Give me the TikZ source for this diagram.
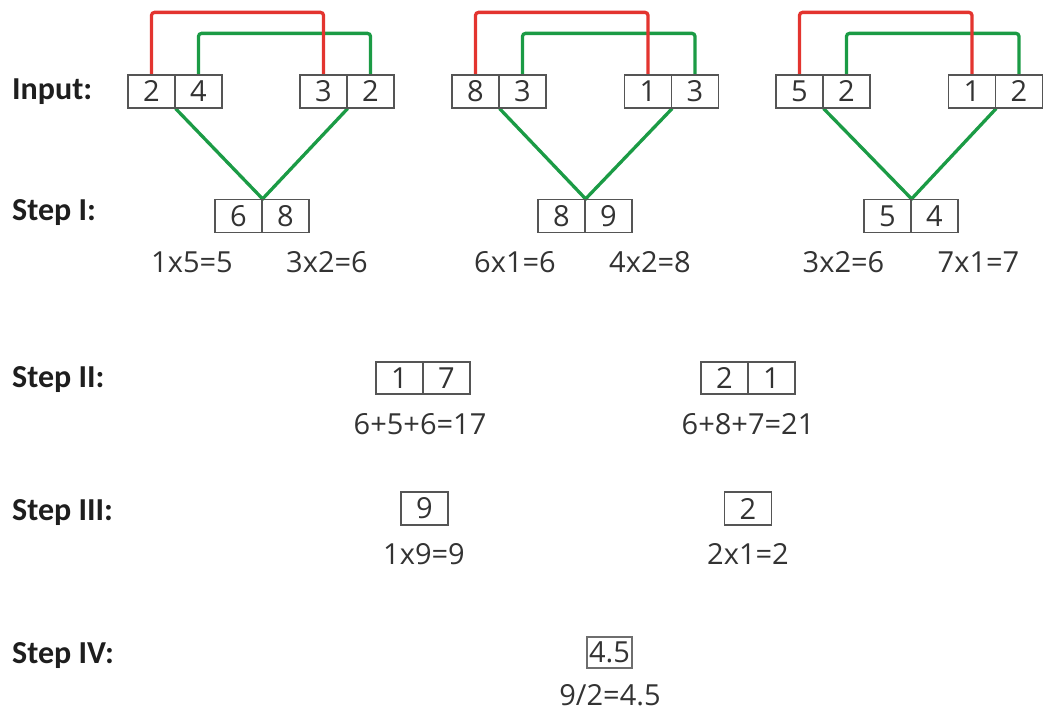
\documentclass[tikz,border=0pt]{standalone}
\usepackage{fontspec}
\setmainfont{Open Sans}
\newfontfamily\lblfont{Carlito}
\newcommand\myNum{\fontsize{29}{34}\selectfont}
\newcommand\myLbl{\lblfont\bfseries\fontsize{32}{36}\selectfont}
\definecolor{txt}{HTML}{333333}
\definecolor{lbl}{HTML}{1E1E1E}
\definecolor{boxgray}{HTML}{555555}
\definecolor{redln}{HTML}{E3342F}
\definecolor{greenln}{HTML}{1B9B45}
\pgfdeclarelayer{background}
\pgfsetlayers{background,main}
\begin{document}
\begin{tikzpicture}[x=1pt,y=-1pt,
  cell/.style={draw=boxgray, line width=1.2pt, minimum width=47pt, minimum height=33pt,
    inner sep=0pt, font=\myNum, text=txt},
  smallcell/.style={cell, minimum height=32pt},
  calc/.style={font=\myNum, text=txt, inner sep=0pt},
  steplbl/.style={font=\myLbl, text=lbl, anchor=base west, inner sep=0pt},
  redline/.style={draw=redln, line width=3.3pt, rounded corners=3pt},
  greenline/.style={draw=greenln, line width=3.3pt, rounded corners=3pt},
  vline/.style={draw=greenln, line width=3.3pt}]
\useasboundingbox (0,0) rectangle (1045,714);

% labels
\node[steplbl] (lin) at (12,100) {Input:};
\node[steplbl] (l1) at (12,221) {Step I:};
\node[steplbl] (l2) at (12,387) {Step II:};
\node[steplbl] (l3) at (12,520) {Step III:};
\node[steplbl] (l4) at (12,663) {Step IV:};

% group 1
\node[cell] (g1a) at (151.5,91.5) {2};
\node[cell] (g1b) at (198.5,91.5) {4};
\node[cell] (g1c) at (323.5,91.5) {3};
\node[cell] (g1d) at (370.5,91.5) {2};
\node[cell] (s1a) at (238.5,216) {6};
\node[cell] (s1b) at (285.5,216) {8};
\node[calc] (f1a) at (192,262) {1x5=5};
\node[calc] (f1b) at (327,262) {3x2=6};

% group 2
\node[cell] (g2a) at (475.5,91.5) {8};
\node[cell] (g2b) at (522.5,91.5) {3};
\node[cell] (g2c) at (648,91.5) {1};
\node[cell] (g2d) at (695,91.5) {3};
\node[cell] (s2a) at (561.5,216) {8};
\node[cell] (s2b) at (608.5,216) {9};
\node[calc] (f2a) at (515,262) {6x1=6};
\node[calc] (f2b) at (650,262) {4x2=8};

% group 3
\node[cell] (g3a) at (799.5,91.5) {5};
\node[cell] (g3b) at (846.5,91.5) {2};
\node[cell] (g3c) at (972,91.5) {1};
\node[cell] (g3d) at (1019,91.5) {2};
\node[cell] (s3a) at (887.5,216) {5};
\node[cell] (s3b) at (934.5,216) {4};
\node[calc] (f3a) at (843.5,262) {3x2=6};
\node[calc] (f3b) at (978.5,262) {7x1=7};

% connectors
\begin{pgfonlayer}{background}
\foreach \g in {1,2,3}{
  \draw[greenline] (g\g b.north) -- ++(0,-41) -| (g\g d.north);
  \draw[redline] (g\g a.north) -- ++(0,-62) -| (g\g c.north);
  \draw[vline] (g\g a.south east) -- (s\g a.north east) -- (g\g c.south east);
}
\end{pgfonlayer}

% step II
\node[smallcell] (t2a) at (399.5,378) {1};
\node[smallcell] (t2b) at (446.5,378) {7};
\node[smallcell] (t2c) at (724.5,378) {2};
\node[smallcell] (t2d) at (771.5,378) {1};
\node[calc] (e2a) at (420,424) {6+5+6=17};
\node[calc] (e2b) at (748,424) {6+8+7=21};

% step III
\node[cell] (t3a) at (424.5,508.5) {9};
\node[cell] (t3b) at (748,508.5) {2};
\node[calc] (e3a) at (424,554) {1x9=9};
\node[calc] (e3b) at (748,554) {2x1=2};

% step IV
\node[cell, minimum width=45pt, minimum height=31pt, line width=1.8pt, draw=boxgray!85] (t4) at (609.5,652.5) {4.5};
\node[calc] (e4) at (610,695) {9/2=4.5};
\end{tikzpicture}
\end{document}
